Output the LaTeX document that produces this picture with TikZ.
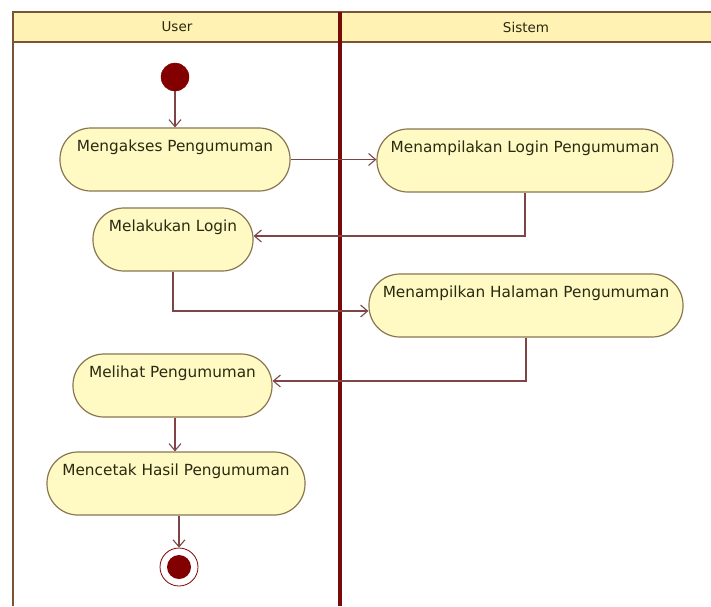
\documentclass[tikz,border=0pt]{standalone}
\usepackage{fontspec}
\setmainfont{DejaVu Sans}
\usetikzlibrary{arrows.meta}
\definecolor{lanefill}{HTML}{FFF2B3}
\definecolor{laneline}{HTML}{7A5535}
\definecolor{divider}{HTML}{780A0A}
\definecolor{actfill}{HTML}{FFFAC4}
\definecolor{actline}{HTML}{8A7650}
\definecolor{flow}{HTML}{7D4545}
\definecolor{dotred}{HTML}{820000}
\definecolor{acttext}{HTML}{2A2A10}
\tikzset{
  activity/.style={draw=actline, fill=actfill, line width=1.2pt,
    rounded corners=31pt, inner xsep=0pt, inner ysep=0pt,
    text height=23pt, text depth=40pt, text=acttext,
    font=\fontsize{15.3}{18}\selectfont},
  flowline/.style={draw=flow, line width=1.1pt,
    -{Straight Barb[length=7pt,width=12pt,line width=1.1pt]}},
  lanetitle/.style={font=\fontsize{13.5}{16}\selectfont, text=acttext}
}
\begin{document}
\begin{tikzpicture}[x=1pt,y=-1pt]
\useasboundingbox (0,0) rectangle (711,606);
\fill[white] (0,0) rectangle (711,606);

% swimlanes
\fill[lanefill] (13,12) rectangle (711,42);
\draw[laneline, line width=1.6pt] (711,12) -- (13,12) -- (13,606);
\draw[laneline, line width=1.6pt] (13,42) -- (711,42);
\draw[divider, line width=4pt] (340,12) -- (340,606);
\node[lanetitle] (laneUser) at (177,27) {User};
\node[lanetitle] (laneSistem) at (526,27) {Sistem};

% start and end
\node[circle, fill=dotred, draw=dotred, minimum size=28pt, inner sep=0pt] (start) at (175,77) {};
\node[circle, draw=dotred, line width=0.8pt, fill=white, minimum size=38pt, inner sep=0pt] (finish) at (179,567) {};
\fill[dotred] (finish.center) circle (12pt);

% activities
\node[activity, minimum width=230pt] (akses) at (175,159.5) {Mengakses Pengumuman};
\node[activity, minimum width=160pt] (login) at (173,239.5) {Melakukan Login};
\node[activity, minimum width=296pt] (tampilLogin) at (525,160.5) {Menampilakan Login Pengumuman};
\node[activity, minimum width=314pt] (tampilHal) at (526,305.5) {Menampilkan Halaman Pengumuman};
\node[activity, minimum width=199pt] (lihat) at (172.5,385.5) {Melihat Pengumuman};
\node[activity, minimum width=258pt] (cetak) at (176,483.5) {Mencetak Hasil Pengumuman};

% control flow
\draw[flowline] (start) -- (akses.north);
\draw[flowline] (akses.east) -- (akses.east -| tampilLogin.west);
\draw[flowline] (tampilLogin.south) |- ([yshift=3.5pt]login.east);
\draw[flowline] (login.south) |- ([yshift=-5.5pt]tampilHal.west);
\draw[flowline] (tampilHal.south) |- ([yshift=4.5pt]lihat.east);
\draw[flowline] ([xshift=-1pt]lihat.south -| cetak.north) -- ([xshift=-1pt]cetak.north);
\draw[flowline] (cetak.south -| finish.north) -- (finish.north);
\end{tikzpicture}
\end{document}
